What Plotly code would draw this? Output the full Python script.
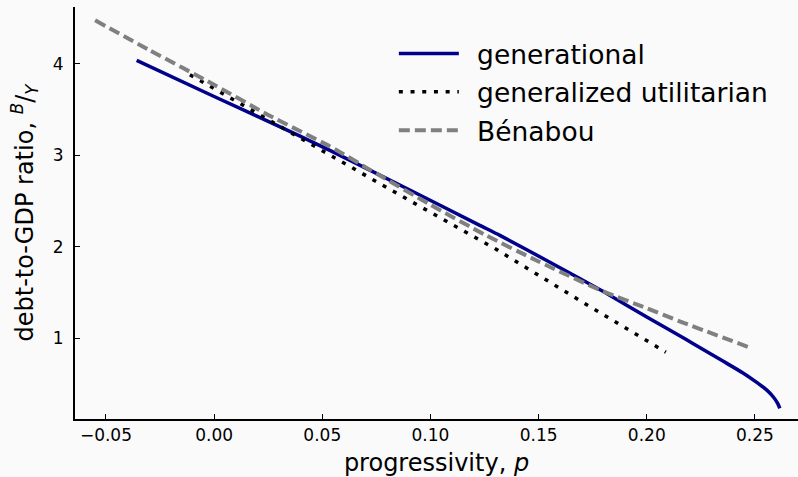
import plotly.graph_objects as go

# generational (solid navy)
gen_p = [-0.0358, 0.0, 0.04, 0.0535, 0.09, 0.1228, 0.1321, 0.155, 0.1797, 0.2, 0.2152,
         0.2213, 0.235, 0.2443, 0.2505, 0.2555, 0.2585, 0.2605, 0.2615]
gen_b = [4.036, 3.642, 3.206, 3.053, 2.626, 2.235, 2.125, 1.835, 1.514, 1.234, 1.03,
         0.945, 0.755, 0.625, 0.525, 0.435, 0.36, 0.29, 0.235]

# generalized utilitarian (dotted black)
util_p = [-0.0112, 0.0, 0.05, 0.09, 0.1251, 0.1306, 0.17, 0.2037, 0.2088]
util_b = [3.88, 3.73, 3.05, 2.51, 2.04, 1.97, 1.40, 0.914, 0.85]

# Bénabou (dashed grey)
ben_p = [-0.055, -0.03, 0.0, 0.025, 0.0535, 0.075, 0.1, 0.1251, 0.15, 0.1797, 0.2, 0.2152, 0.2476]
ben_b = [4.473, 4.15, 3.77, 3.44, 3.097, 2.80, 2.46, 2.133, 1.84, 1.514, 1.33, 1.187, 0.90]

x_ticks = [-0.05, 0.0, 0.05, 0.10, 0.15, 0.20, 0.25]
y_ticks = [1, 2, 3, 4]

FONT = "DejaVu Sans"
BG = "#fafafa"
SP = "\u2002"  # en space between legend line and label

fig = go.Figure()
fig.add_trace(go.Scatter(x=gen_p, y=gen_b, mode="lines", name=SP + "generational",
                         legendgroup="a",
                         line=dict(color="#00008b", width=3.5, shape="spline", smoothing=0.6)))
fig.add_trace(go.Scatter(x=util_p, y=util_b, mode="lines", name=SP + "generalized utilitarian",
                         legendgroup="b",
                         line=dict(color="black", width=3.5, dash="4px,7.7px")))
fig.add_trace(go.Scatter(x=ben_p, y=ben_b, mode="lines", name=SP + "Bénabou",
                         legendgroup="c",
                         line=dict(color="#808080", width=4, dash="11px,5px",
                                   shape="spline", smoothing=0.6)))

fig.update_layout(
    width=798, height=477,
    margin=dict(l=75, r=0, t=7, b=58),
    paper_bgcolor=BG, plot_bgcolor=BG,
    font=dict(family=FONT, color="black", size=17),
    showlegend=True,
    legend=dict(x=0.441, y=0.945, xanchor="left", yanchor="top",
                bgcolor="rgba(0,0,0,0)", font=dict(size=26.5, family=FONT),
                traceorder="grouped", tracegroupgap=1, itemwidth=60),
)
fig.update_xaxes(range=[-0.0643, 0.2699], tickvals=x_ticks, tickformat=".2f",
                 ticks="inside", ticklen=5, tickwidth=1, tickcolor="black",
                 showline=True, linecolor="black", linewidth=2, showgrid=False,
                 zeroline=False, tickfont=dict(size=17),
                 title=dict(text="progressivity, <i>p</i>", font=dict(size=24), standoff=10))
fig.update_yaxes(range=[0.120, 4.619], tickvals=y_ticks,
                 ticks="inside", ticklen=5, tickwidth=1, tickcolor="black",
                 showline=True, linecolor="black", linewidth=2, showgrid=False,
                 zeroline=False, tickfont=dict(size=17), ticklabelstandoff=6,
                 title=dict(text="debt-to-GDP ratio, <sup><i>B</i></sup>/<sub><i>Y</i></sub>",
                            font=dict(size=24), standoff=12))

fig.write_html("out.html")
